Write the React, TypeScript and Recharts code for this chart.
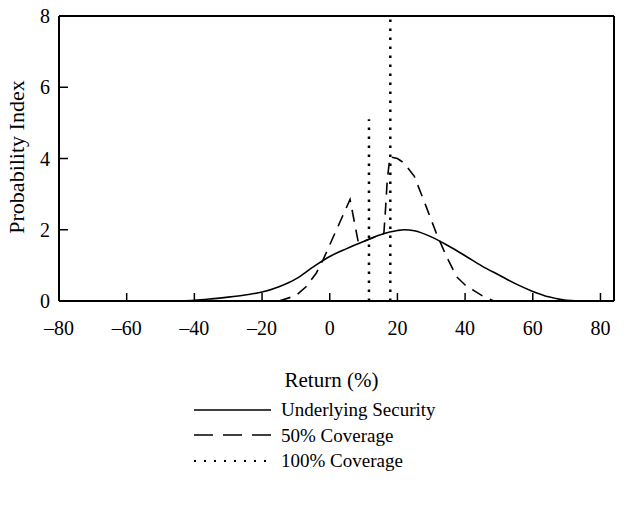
import React from 'react';
import { LineChart, Line, XAxis, YAxis, ReferenceLine, Legend } from 'recharts';

const FONT = "'Liberation Serif', 'Times New Roman', serif";

// Axis ticks
const xTicks = [-80, -60, -40, -20, 0, 20, 40, 60, 80];
const yTicks = [0, 2, 4, 6, 8];

// Underlying Security (solid)
const underlyingReturns = [-80, -70, -60, -50, -45, -40, -35, -30, -25, -20, -15, -10, -5, 0, 5, 10, 15, 20, 22, 25, 30, 35, 40, 45, 50, 55, 60, 65, 70, 75, 84];
const underlyingProb = [0, 0, 0, 0, 0.005, 0.02, 0.06, 0.11, 0.17, 0.25, 0.4, 0.62, 0.95, 1.25, 1.47, 1.67, 1.86, 1.98, 2.0, 1.97, 1.8, 1.55, 1.27, 0.98, 0.73, 0.48, 0.27, 0.11, 0.02, 0, 0];

// 50% Coverage (dashed)
const coverage50Returns = [-15, -10, -7, -4, -2, 2, 6, 8.5, 11, 14, 16, 16.5, 17, 17.8, 20, 22, 25, 28.5, 31.5, 34.5, 37.5, 40, 42.5, 45, 48.5];
const coverage50Prob = [0, 0.15, 0.4, 0.78, 1.15, 2.0, 2.85, 1.62, 1.71, 1.82, 1.9, 2.6, 3.4, 4.05, 4.0, 3.87, 3.5, 2.65, 1.9, 1.25, 0.68, 0.45, 0.3, 0.15, 0];

// 100% Coverage (dotted spikes)
const coverage100Returns = [11.6, 17.9];
const coverage100Heights = [5.1, 8];

// Series names in legend order
const seriesNames = ['Underlying Security', '50% Coverage', '100% Coverage'];

const underlyingData = underlyingReturns.map((x, i) => ({ x, y: underlyingProb[i] }));
const coverage50Data = coverage50Returns.map((x, i) => ({ x, y: coverage50Prob[i] }));
const coverage100Data: { x: number; y: number | null }[] = [];
coverage100Returns.forEach((x, i) => {
  if (i > 0) coverage100Data.push({ x, y: null });
  coverage100Data.push({ x, y: 0 });
  coverage100Data.push({ x, y: coverage100Heights[i] });
});

const legendStyle: Record<string, { dash?: string; width: number }> = {
  'Underlying Security': { width: 1.6 },
  '50% Coverage': { dash: '19 10', width: 1.6 },
  '100% Coverage': { dash: '2 8', width: 2 },
};

const fmtX = (v: number) => (v < 0 ? '\u2013' + Math.abs(v) : String(v));

const renderLegend = (props: any) => {
  const payload = [...(props.payload || [])].sort(
    (a: any, b: any) => seriesNames.indexOf(a.value) - seriesNames.indexOf(b.value)
  );
  return (
    <div style={{ fontFamily: FONT, fontSize: 19, color: '#000' }}>
      {payload.map((entry: any) => {
        const st = legendStyle[entry.value] || { width: 1.6 };
        return (
          <div key={entry.value} style={{ display: 'flex', alignItems: 'center', height: 25.5, lineHeight: '25.5px' }}>
            <svg width={87} height={10} style={{ display: 'block' }}>
              <line x1={0} y1={5} x2={77} y2={5} stroke="#000" strokeWidth={st.width} strokeDasharray={st.dash} />
            </svg>
            <span>{entry.value}</span>
          </div>
        );
      })}
    </div>
  );
};

export default function App() {
  return (
    <div style={{ position: 'absolute', left: 0, top: 0, width: 626, height: 508, background: '#fff' }}>
      <LineChart width={626} height={508} margin={{ top: 16, right: 12, bottom: 167, left: 0 }}>
        <XAxis
          type="number"
          dataKey="x"
          domain={[-80, 84]}
          ticks={xTicks}
          interval={0}
          allowDataOverflow
          height={40}
          tickFormatter={fmtX}
          tickSize={-8}
          tickMargin={28}
          axisLine={{ stroke: '#000', strokeWidth: 2 }}
          tickLine={{ stroke: '#000', strokeWidth: 1.5 }}
          tick={{ fill: '#000', fontSize: 20, fontFamily: FONT }}
          label={{
            content: (p: any) => {
              const vb = p.viewBox || { x: 59, width: 555 };
              return (
                <text x={vb.x + vb.width / 2 - 5} y={387} textAnchor="middle" fontFamily={FONT} fontSize={21} fill="#000">
                  Return (%)
                </text>
              );
            },
          }}
        />
        <YAxis
          type="number"
          domain={[0, 8]}
          ticks={yTicks}
          interval={0}
          allowDataOverflow
          width={59}
          tickSize={-9}
          tickMargin={18}
          axisLine={{ stroke: '#000', strokeWidth: 2 }}
          tickLine={{ stroke: '#000', strokeWidth: 1.5 }}
          tick={{ fill: '#000', fontSize: 20, fontFamily: FONT }}
          label={{
            content: () => (
              <text transform="translate(24,157) rotate(-90)" textAnchor="middle" fontFamily={FONT} fontSize={22} fill="#000">
                Probability Index
              </text>
            ),
          }}
        />
        <ReferenceLine y={8} stroke="#000" strokeWidth={2} />
        <ReferenceLine x={84} stroke="#000" strokeWidth={2} />
        <Line
          data={underlyingData}
          dataKey="y"
          name={seriesNames[0]}
          type="monotone"
          stroke="#000"
          strokeWidth={1.6}
          dot={false}
          activeDot={false}
          isAnimationActive={false}
        />
        <Line
          data={coverage50Data}
          dataKey="y"
          name={seriesNames[1]}
          type="linear"
          stroke="#000"
          strokeWidth={1.6}
          strokeDasharray="12 8"
          dot={false}
          activeDot={false}
          isAnimationActive={false}
        />
        <Line
          data={coverage100Data}
          dataKey="y"
          name={seriesNames[2]}
          type="linear"
          stroke="#000"
          strokeWidth={2.5}
          strokeDasharray="2.5 6.5"
          dot={false}
          activeDot={false}
          connectNulls={false}
          isAnimationActive={false}
        />
        <Legend
          layout="vertical"
          align="center"
          verticalAlign="middle"
          content={renderLegend}
          wrapperStyle={{ position: 'absolute', left: 194, top: 397, width: 320, height: 80 }}
        />
      </LineChart>
    </div>
  );
}
